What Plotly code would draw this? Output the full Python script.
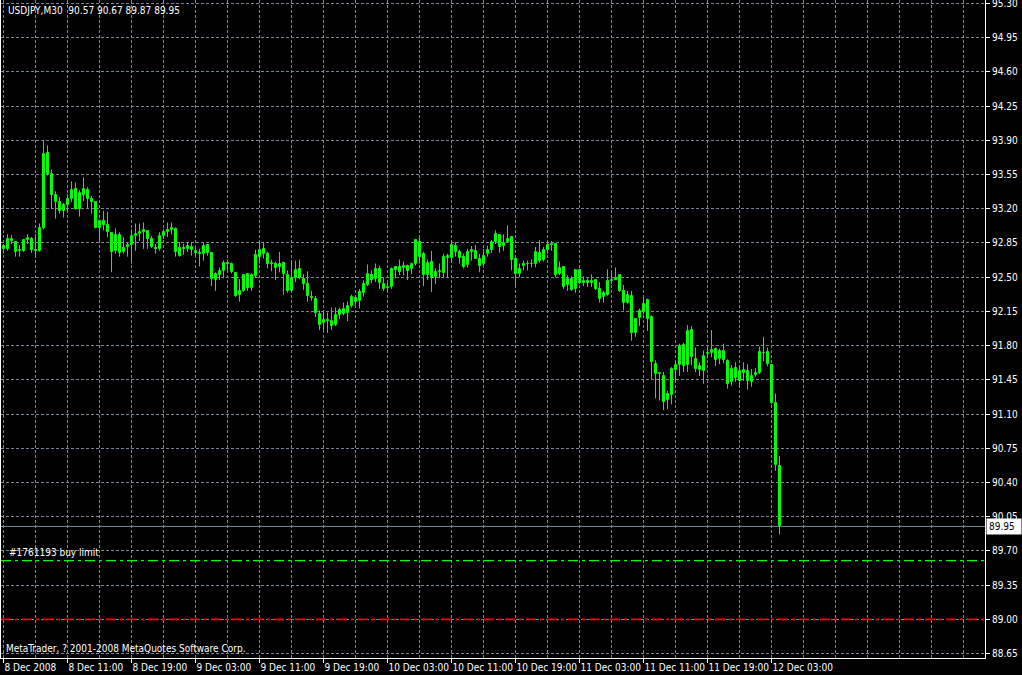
import plotly.graph_objects as go

# ---- data (USDJPY, M30, bars from 8 Dec 2008 03:00) ----
opens = [92.82, 92.79, 92.89, 92.86, 92.77, 92.77, 92.88, 92.89, 92.78, 92.77,
         93.00, 93.77, 93.56, 93.34, 93.27, 93.18, 93.24, 93.30, 93.40, 93.20,
         93.34, 93.39, 93.30, 93.27, 93.00, 93.08, 93.03, 92.95, 92.77, 92.93,
         92.76, 92.81, 92.83, 92.92, 92.94, 92.96, 92.97, 92.89, 92.80, 92.79,
         92.92, 92.96, 92.98, 92.99, 92.72, 92.80, 92.79, 92.81, 92.77, 92.75,
         92.74, 92.83, 92.75, 92.47, 92.52, 92.56, 92.65, 92.63, 92.54, 92.32,
         92.36, 92.53, 92.39, 92.51, 92.71, 92.79, 92.74, 92.64, 92.64, 92.60,
         92.65, 92.52, 92.36, 92.49, 92.58, 92.48, 92.43, 92.30, 92.28, 92.12,
         92.03, 92.06, 92.05, 92.01, 92.11, 92.17, 92.13, 92.21, 92.29, 92.26,
         92.34, 92.42, 92.52, 92.48, 92.58, 92.43, 92.39, 92.40, 92.57, 92.60,
         92.59, 92.61, 92.58, 92.64, 92.86, 92.74, 92.52, 92.66, 92.50, 92.55,
         92.54, 92.70, 92.70, 92.82, 92.76, 92.71, 92.62, 92.76, 92.77, 92.69,
         92.64, 92.74, 92.78, 92.86, 92.93, 92.82, 92.86, 92.91, 92.69, 92.53,
         92.61, 92.63, 92.64, 92.64, 92.75, 92.68, 92.78, 92.83, 92.84, 92.53,
         92.60, 92.42, 92.48, 92.38, 92.57, 92.44, 92.46, 92.44, 92.47, 92.38,
         92.30, 92.32, 92.46, 92.47, 92.52, 92.36, 92.24, 92.31, 91.93, 92.08,
         92.14, 92.27, 92.09, 91.61, 91.51, 91.49, 91.24, 91.30, 91.55, 91.60,
         91.81, 91.60, 91.96, 91.66, 91.55, 91.54, 91.71, 91.72, 91.77, 91.66,
         91.74, 91.64, 91.43, 91.57, 91.44, 91.52, 91.54, 91.43, 91.50, 91.52,
         91.72, 91.73, 91.60, 91.21, 90.57]
highs = [92.84, 92.94, 92.93, 92.87, 92.83, 92.89, 92.94, 92.91, 92.94, 93.05,
         93.90, 93.85, 93.60, 93.38, 93.32, 93.26, 93.35, 93.48, 93.47, 93.39,
         93.52, 93.42, 93.33, 93.28, 93.09, 93.18, 93.17, 92.96, 93.00, 92.96,
         92.91, 92.86, 92.99, 93.05, 93.05, 93.06, 92.98, 92.92, 92.84, 92.96,
         92.99, 93.06, 93.06, 93.01, 92.86, 92.84, 92.86, 92.85, 92.80, 92.79,
         92.85, 92.84, 92.76, 92.55, 92.60, 92.67, 92.68, 92.65, 92.55, 92.48,
         92.53, 92.54, 92.54, 92.78, 92.86, 92.86, 92.76, 92.68, 92.66, 92.76,
         92.66, 92.57, 92.67, 92.67, 92.68, 92.53, 92.56, 92.36, 92.31, 92.16,
         92.16, 92.14, 92.19, 92.19, 92.19, 92.24, 92.25, 92.32, 92.31, 92.38,
         92.47, 92.63, 92.57, 92.64, 92.62, 92.49, 92.45, 92.60, 92.61, 92.68,
         92.66, 92.63, 92.65, 92.89, 92.92, 92.76, 92.68, 92.77, 92.59, 92.64,
         92.74, 92.74, 92.88, 92.86, 92.78, 92.74, 92.79, 92.82, 92.83, 92.74,
         92.79, 92.82, 92.88, 92.98, 92.94, 92.94, 93.03, 92.92, 92.70, 92.64,
         92.67, 92.67, 92.68, 92.81, 92.88, 92.81, 92.87, 92.87, 92.85, 92.66,
         92.61, 92.52, 92.51, 92.58, 92.58, 92.51, 92.49, 92.53, 92.47, 92.45,
         92.36, 92.58, 92.55, 92.60, 92.53, 92.42, 92.36, 92.36, 92.08, 92.18,
         92.30, 92.28, 92.11, 91.65, 91.53, 91.53, 91.34, 91.58, 91.63, 91.82,
         91.83, 92.01, 92.00, 91.78, 91.63, 91.75, 91.78, 91.96, 91.78, 91.77,
         91.82, 91.66, 91.60, 91.63, 91.60, 91.63, 91.61, 91.56, 91.57, 91.79,
         91.89, 91.78, 91.61, 91.31, 90.67]
lows = [92.74, 92.77, 92.84, 92.71, 92.71, 92.76, 92.84, 92.75, 92.70, 92.76,
        92.99, 93.54, 93.20, 93.10, 93.15, 93.11, 93.17, 93.27, 93.19, 93.12,
        93.28, 93.20, 93.15, 93.00, 92.88, 92.98, 92.91, 92.55, 92.74, 92.71,
        92.74, 92.71, 92.64, 92.77, 92.87, 92.79, 92.79, 92.80, 92.74, 92.77,
        92.89, 92.91, 92.94, 92.71, 92.71, 92.73, 92.76, 92.72, 92.71, 92.61,
        92.67, 92.72, 92.41, 92.36, 92.47, 92.49, 92.55, 92.54, 92.30, 92.25,
        92.35, 92.36, 92.36, 92.49, 92.64, 92.69, 92.59, 92.56, 92.47, 92.55,
        92.32, 92.34, 92.35, 92.45, 92.48, 92.37, 92.25, 92.26, 92.09, 91.96,
        91.96, 91.93, 91.96, 92.00, 92.07, 92.11, 92.05, 92.19, 92.22, 92.18,
        92.30, 92.41, 92.44, 92.45, 92.38, 92.36, 92.34, 92.38, 92.49, 92.52,
        92.52, 92.47, 92.53, 92.62, 92.64, 92.41, 92.47, 92.35, 92.43, 92.49,
        92.49, 92.49, 92.65, 92.71, 92.64, 92.59, 92.60, 92.67, 92.69, 92.55,
        92.62, 92.71, 92.75, 92.84, 92.75, 92.77, 92.85, 92.57, 92.42, 92.50,
        92.57, 92.57, 92.60, 92.60, 92.65, 92.66, 92.74, 92.77, 92.50, 92.52,
        92.38, 92.36, 92.36, 92.34, 92.43, 92.41, 92.40, 92.40, 92.37, 92.24,
        92.24, 92.31, 92.43, 92.47, 92.35, 92.16, 92.23, 91.85, 91.89, 92.00,
        92.12, 91.95, 91.46, 91.26, 91.24, 91.14, 91.15, 91.20, 91.43, 91.49,
        91.53, 91.53, 91.60, 91.53, 91.49, 91.41, 91.67, 91.68, 91.59, 91.61,
        91.62, 91.36, 91.39, 91.43, 91.37, 91.44, 91.35, 91.38, 91.48, 91.51,
        91.64, 91.59, 91.20, 90.52, 89.87]
closes = [92.79, 92.89, 92.87, 92.76, 92.78, 92.88, 92.90, 92.78, 92.77, 93.00,
          93.76, 93.56, 93.34, 93.27, 93.18, 93.24, 93.30, 93.39, 93.20, 93.36,
          93.40, 93.30, 93.27, 93.00, 93.08, 93.03, 92.96, 92.76, 92.93, 92.75,
          92.80, 92.83, 92.92, 92.94, 92.96, 92.98, 92.89, 92.81, 92.79, 92.92,
          92.96, 92.98, 93.00, 92.76, 92.80, 92.79, 92.82, 92.78, 92.75, 92.74,
          92.82, 92.75, 92.48, 92.53, 92.56, 92.65, 92.63, 92.55, 92.31, 92.36,
          92.52, 92.39, 92.52, 92.73, 92.78, 92.74, 92.63, 92.65, 92.59, 92.64,
          92.53, 92.36, 92.49, 92.57, 92.49, 92.43, 92.31, 92.29, 92.13, 92.01,
          92.06, 92.05, 92.00, 92.11, 92.16, 92.12, 92.21, 92.30, 92.25, 92.35,
          92.43, 92.53, 92.47, 92.58, 92.44, 92.38, 92.40, 92.58, 92.60, 92.55,
          92.61, 92.56, 92.64, 92.88, 92.71, 92.52, 92.65, 92.49, 92.55, 92.56,
          92.71, 92.72, 92.83, 92.76, 92.70, 92.60, 92.76, 92.78, 92.69, 92.61,
          92.72, 92.78, 92.86, 92.94, 92.81, 92.85, 92.89, 92.68, 92.53, 92.58,
          92.63, 92.64, 92.63, 92.76, 92.67, 92.78, 92.83, 92.84, 92.52, 92.59,
          92.40, 92.48, 92.37, 92.57, 92.44, 92.46, 92.44, 92.46, 92.38, 92.28,
          92.34, 92.46, 92.47, 92.49, 92.36, 92.24, 92.32, 91.93, 92.07, 92.15,
          92.23, 92.07, 91.63, 91.51, 91.52, 91.22, 91.31, 91.56, 91.60, 91.80,
          91.59, 91.95, 91.68, 91.56, 91.59, 91.69, 91.72, 91.76, 91.65, 91.75,
          91.65, 91.41, 91.56, 91.47, 91.54, 91.55, 91.44, 91.49, 91.52, 91.73,
          91.72, 91.61, 91.21, 90.58, 89.95]

symbol = "USDJPY,M30"
label_bars = [0, 16, 32, 48, 64, 80, 96, 112, 128, 144, 160, 176, 192]
x_labels = ["8 Dec 2008", "8 Dec 11:00", "8 Dec 19:00", "9 Dec 03:00",
            "9 Dec 11:00", "9 Dec 19:00", "10 Dec 03:00", "10 Dec 11:00",
            "10 Dec 19:00", "11 Dec 03:00", "11 Dec 11:00", "11 Dec 19:00",
            "12 Dec 03:00"]
price_labels = ["88.65", "89.00", "89.35", "89.70", "90.05", "90.40", "90.75",
                "91.10", "91.45", "91.80", "92.15", "92.50", "92.85", "93.20",
                "93.55", "93.90", "94.25", "94.60", "94.95", "95.30"]
order_price = 89.60
order_label = "#1761193 buy limit"
stop_price = 89.00
copyright_text = "MetaTrader, ? 2001-2008 MetaQuotes Software Corp."

# ---- styling ----
LIME = "#00ff00"
GRID = "#778899"
FONT = "Liberation Sans Narrow, Arial Narrow, DejaVu Sans Condensed, Liberation Sans, sans-serif"
FS = 10
W, H = 1022, 675
ML, MR, MT, MB = 1, 37, 0, 17
PX_PER_BAR = 4.0
PX_PER_UNIT = 97.75
plot_w = W - ML - MR
plot_h = H - MT - MB
x0 = -0.625
x1 = x0 + plot_w / PX_PER_BAR
y_top = 95.30 + 3.5 / PX_PER_UNIT
y_bot = y_top - plot_h / PX_PER_UNIT

n = len(closes)
idx = list(range(n))

wx, wy = [], []
for i in idx:
    wx += [i, i, None]
    wy += [lows[i], highs[i], None]

bull_x, bull_base, bull_h = [], [], []
bear_x, bear_base, bear_h = [], [], []
for i in idx:
    o, c = opens[i], closes[i]
    if c >= o:
        bull_x.append(i); bull_base.append(o); bull_h.append(max(c - o, 0.002))
    else:
        bear_x.append(i); bear_base.append(c); bear_h.append(max(o - c, 0.002))

fig = go.Figure()
fig.add_trace(go.Scatter(x=wx, y=wy, mode="lines",
                         line=dict(color=LIME, width=1), hoverinfo="skip",
                         showlegend=False))
fig.add_trace(go.Bar(x=bull_x, y=bull_h, base=bull_base, width=0.5,
                     marker=dict(color="black", line=dict(color=LIME, width=1)),
                     showlegend=False))
fig.add_trace(go.Bar(x=bear_x, y=bear_h, base=bear_base, width=0.5,
                     marker=dict(color="white", line=dict(color=LIME, width=1)),
                     showlegend=False))

price_vals = [float(s) for s in price_labels]

fig.update_layout(
    width=W, height=H,
    margin=dict(l=ML, r=MR, t=MT, b=MB, pad=0, autoexpand=False),
    paper_bgcolor="black", plot_bgcolor="black",
    barmode="overlay", bargap=0,
    font=dict(family=FONT, size=FS, color="white"),
    showlegend=False,
    xaxis=dict(range=[x0, x1], tickmode="array", tickvals=label_bars,
               ticktext=x_labels, ticks="outside", ticklen=4, tickcolor="white",
               tickwidth=1, ticklabelposition="outside right", tickangle=0,
               ticklabeloverflow="allow",
               tickfont=dict(family=FONT, size=FS, color="white"),
               showgrid=True, gridcolor=GRID, griddash="3px,2px", gridwidth=1,
               minor=dict(tickmode="linear", tick0=0, dtick=8, showgrid=True,
                          gridcolor=GRID, griddash="3px,2px", ticks=""),
               showline=True, linecolor="white", linewidth=1,
               zeroline=False, fixedrange=True, automargin=False),
    yaxis=dict(range=[y_bot, y_top], side="right", tickmode="array",
               tickvals=price_vals, ticktext=price_labels, ticks="outside",
               ticklen=4, tickcolor="white", tickwidth=1,
               ticklabeloverflow="allow",
               tickfont=dict(family=FONT, size=FS, color="white"),
               showgrid=True, gridcolor=GRID, griddash="3px,2px", gridwidth=1,
               showline=True, linecolor="white", linewidth=1, mirror=True,
               zeroline=False, fixedrange=True, automargin=False),
)

# current price line, order line, stop line
fig.add_shape(type="line", xref="paper", x0=0, x1=1, yref="y",
              y0=closes[-1], y1=closes[-1], line=dict(color=GRID, width=1),
              layer="below")
fig.add_shape(type="line", xref="paper", x0=0, x1=1, yref="y",
              y0=order_price, y1=order_price,
              line=dict(color=LIME, width=1.3, dash="10px,4px,3px,4px"))
fig.add_shape(type="line", xref="paper", x0=0, x1=1, yref="y",
              y0=stop_price, y1=stop_price,
              line=dict(color="#ff0000", width=1.6, dash="10px,4px,3px,4px"))

title = f"{symbol}\u00a0 {opens[-1]:.2f} {highs[-1]:.2f} {lows[-1]:.2f} {closes[-1]:.2f}"
fig.add_annotation(text=title, xref="paper", yref="paper", x=0, y=1,
                   xanchor="left", yanchor="top", xshift=5, yshift=-3,
                   showarrow=False, font=dict(family=FONT, size=FS, color="white"))
fig.add_annotation(text=order_label, xref="paper", yref="y", x=0, y=order_price,
                   xanchor="left", yanchor="bottom", xshift=6, yshift=1,
                   showarrow=False, font=dict(family=FONT, size=FS, color="white"))
fig.add_annotation(text=copyright_text, xref="paper", yref="paper", x=0, y=0,
                   xanchor="left", yanchor="bottom", xshift=3, yshift=2,
                   showarrow=False, font=dict(family=FONT, size=FS, color="white"))
fig.add_annotation(text=f"{closes[-1]:.2f}", xref="paper", yref="y", x=1,
                   y=closes[-1], xanchor="left", yanchor="middle", xshift=1,
                   showarrow=False, bgcolor="white", borderpad=2, width=30,
                   align="left",
                   font=dict(family=FONT, size=FS, color="black"))

fig.write_html("out.html",
               config={"displayModeBar": False},
               post_script="document.body.style.margin='0';"
                           "document.body.style.overflow='hidden';")
